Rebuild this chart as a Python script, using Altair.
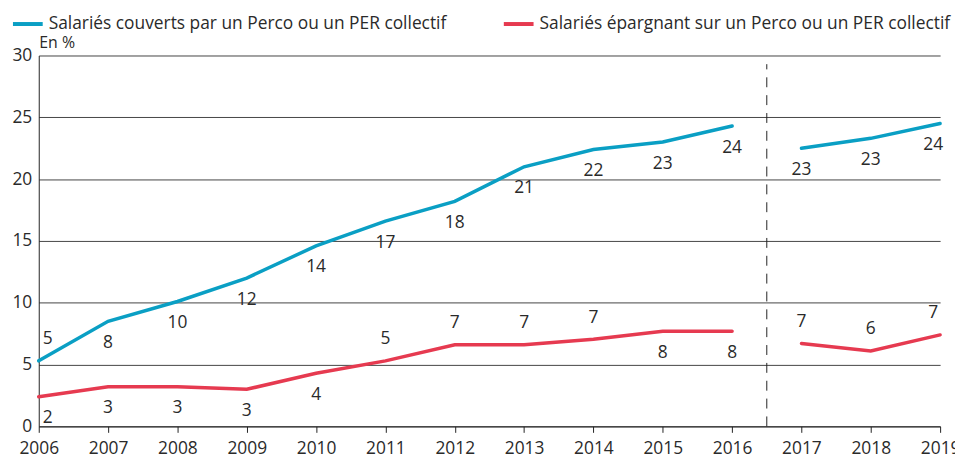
import altair as alt
import pandas as pd

years = list(range(2006, 2020))
couverts = [5.3, 8.5, 10.1, 12.0, 14.6, 16.6, 18.2, 21.0, 22.4, 23.0, 24.3, 22.5, 23.3, 24.5]
couverts_labels = ["5", "8", "10", "12", "14", "17", "18", "21", "22", "23", "24", "23", "23", "24"]
couverts_pos = ["above"] + ["below"] * 13
epargnant = [2.4, 3.2, 3.2, 3.0, 4.3, 5.3, 6.6, 6.6, 7.05, 7.7, 7.7, 6.7, 6.1, 7.4]
epargnant_labels = ["2", "3", "3", "3", "4", "5", "7", "7", "7", "8", "8", "7", "6", "7"]
epargnant_pos = ["below"] * 5 + ["above"] * 4 + ["below"] * 2 + ["above"] * 3

s1 = "Salariés couverts par un Perco ou un PER collectif"
s2 = "Salariés épargnant sur un Perco ou un PER collectif"
break_year = 2016.5

rows = []
for series, vals, labs, pos in [(s1, couverts, couverts_labels, couverts_pos),
                                (s2, epargnant, epargnant_labels, epargnant_pos)]:
    for y, v, l, p in zip(years, vals, labs, pos):
        rows.append({"year": y, "value": v, "label": l, "pos": p, "series": series,
                     "period": "a" if y < break_year else "b"})
df = pd.DataFrame(rows)

FONT = "Open Sans"
FS = 17.5
TXT = "#2a2a2a"
colors = alt.Scale(domain=[s1, s2], range=["#0a9fc4", "#e63a50"])

x = alt.X("year:Q", scale=alt.Scale(domain=[2006, 2019], nice=False, zero=False),
          axis=alt.Axis(values=years, format="d", grid=False, domainColor="#222",
                        tickColor="#222", tickSize=6, labelFontSize=FS, labelColor=TXT,
                        labelPadding=7, labelFont=FONT, title=None, labelFlush=False))
y = alt.Y("value:Q", scale=alt.Scale(domain=[0, 30], nice=False),
          axis=alt.Axis(values=[0, 5, 10, 15, 20, 25, 30], grid=True, gridColor="#444",
                        gridWidth=1, domainColor="#222", ticks=False, labelFontSize=FS,
                        labelColor=TXT, labelPadding=7, labelFont=FONT,
                        title="En %", titleAngle=0, titleAlign="left", titleX=0, titleY=-5,
                        titleBaseline="bottom", titleFontWeight="normal", titleFontSize=16,
                        titleFont=FONT, titleColor=TXT))

lines = alt.Chart(df).mark_line(strokeWidth=3.5, strokeCap="round").encode(
    x=x, y=y,
    color=alt.Color("series:N", scale=colors,
                    legend=alt.Legend(title=None, orient="none", direction="horizontal",
                                      legendX=-28, legendY=-49, symbolType="stroke",
                                      symbolStrokeWidth=4, symbolSize=900,
                                      labelFontSize=FS, labelFont=FONT, labelColor=TXT,
                                      columnPadding=49, columns=2, labelLimit=500)),
    detail="period:N",
)

labels = alt.Chart(df).transform_calculate(
    ly="datum.value + (datum.pos == 'above' ? 1.75 : -1.75)",
    lx="datum.year == 2006 ? datum.year + 0.13 : (datum.year == 2019 ? datum.year - 0.1 : datum.year)",
).mark_text(fontSize=FS, font=FONT, color=TXT, baseline="middle").encode(
    x="lx:Q", y="ly:Q", text="label:N"
)

rule = alt.Chart(pd.DataFrame({"b": [break_year]})).mark_rule(
    strokeDash=[10, 8], color="#222", strokeWidth=1
).encode(x="b:Q", y=alt.datum(0), y2=alt.datum(29.3))

chart = alt.layer(rule, lines, labels).properties(
    width=909, height=374, autosize="none",
    padding={"left": 31, "top": 46, "right": 15, "bottom": 31},
).configure_view(stroke=None)

chart.save("out.html", embed_options={"renderer": "svg", "actions": False})
